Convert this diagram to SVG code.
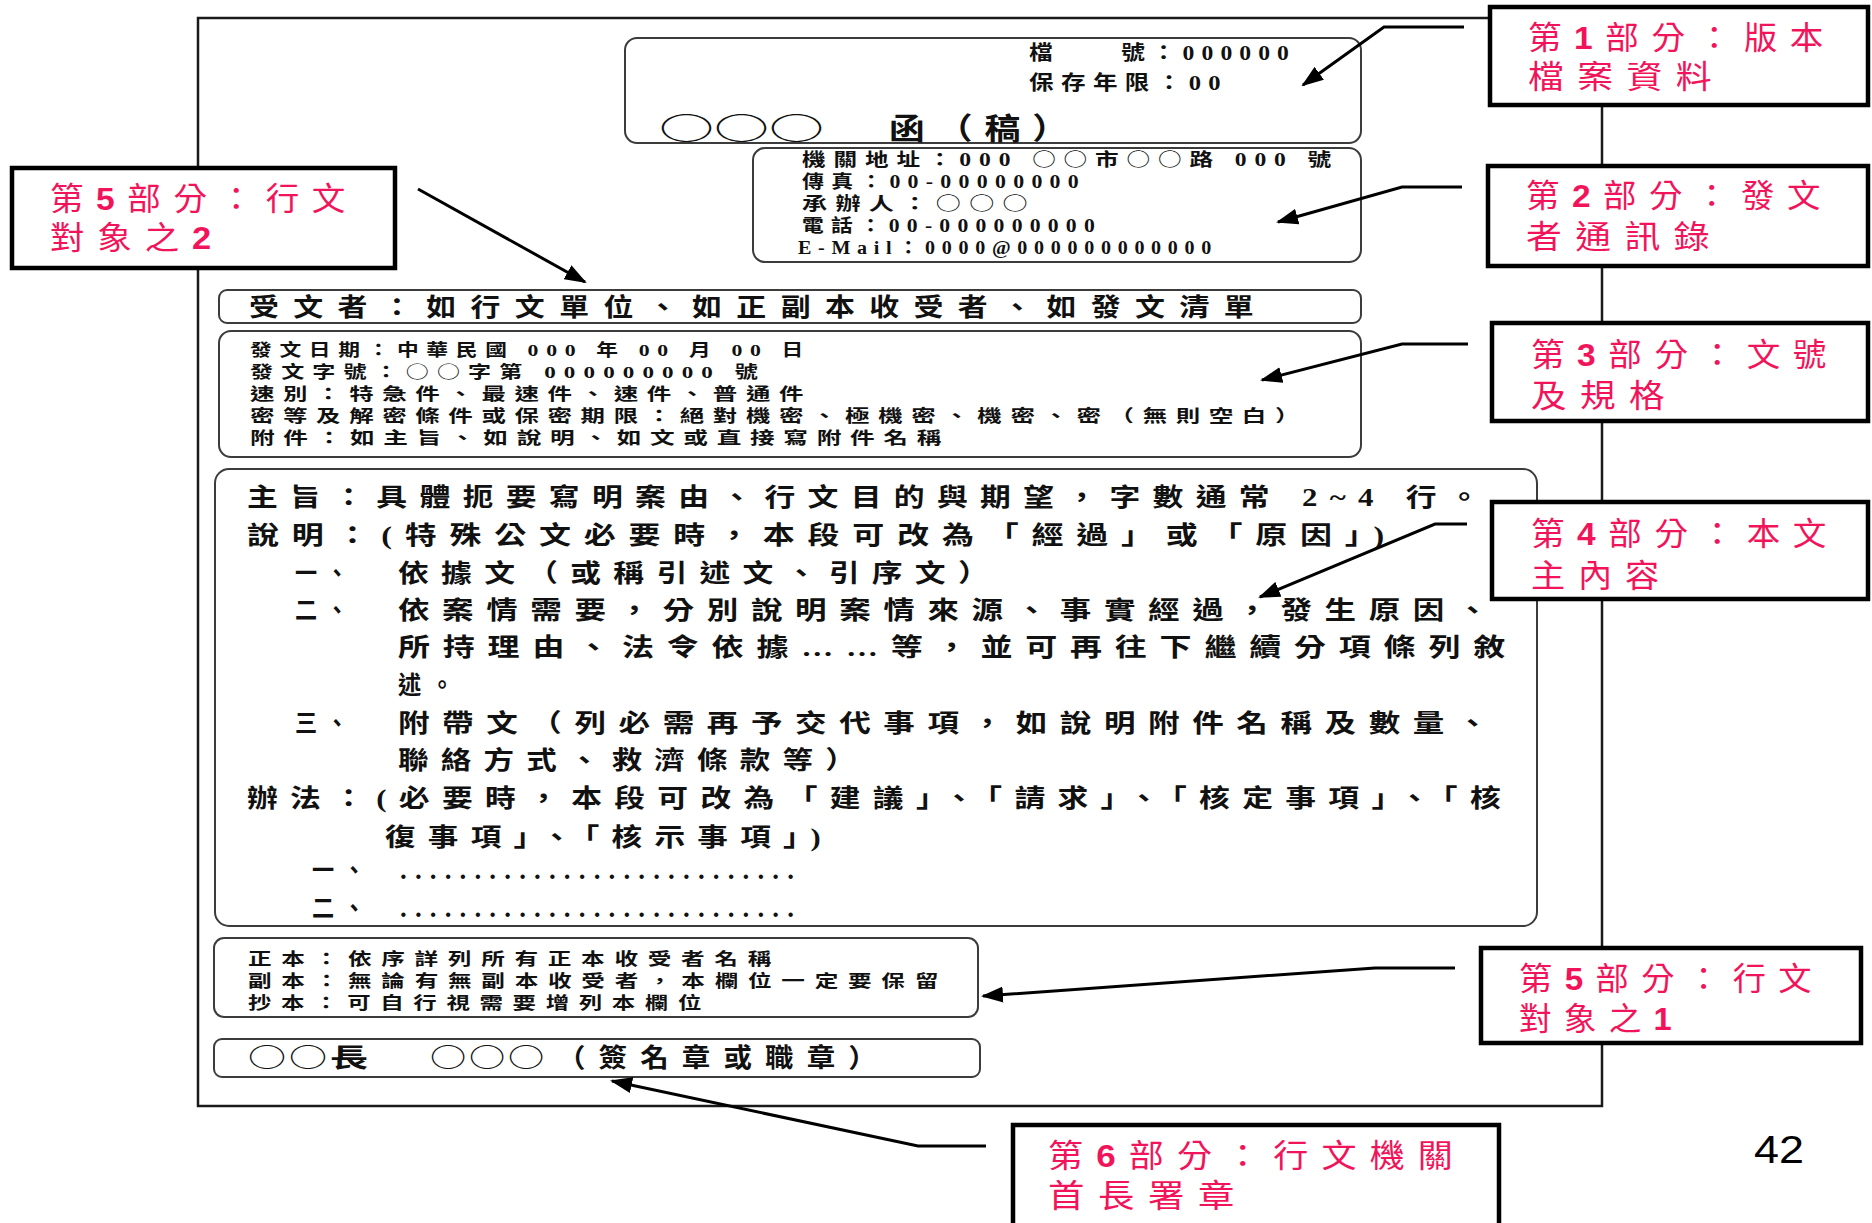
<svg xmlns="http://www.w3.org/2000/svg" width="1872" height="1223" viewBox="0 0 1872 1223">
<style>
.page{fill:none;stroke:#1a1a1a;stroke-width:2.5}
.ibox{fill:#fff;stroke:#3c3c3c;stroke-width:2}
.lbox{fill:#fff;stroke:#000;stroke-width:4.5}
.conn{fill:none;stroke:#000;stroke-width:3;marker-end:url(#ah)}
.t{font-family:"Liberation Serif","Noto Sans CJK TC",serif;font-weight:700;fill:#111}
.c{font-family:"Noto Sans CJK TC",sans-serif;font-weight:400}
.s17{font-size:17px;letter-spacing:6px}.s17w{font-size:17px;letter-spacing:7px}.s18{font-size:18px;letter-spacing:6px}.s20{font-size:20px;letter-spacing:6px}
.s25b{font-size:25px;letter-spacing:12px}.s25{font-size:25px;letter-spacing:10px}.s26{font-size:26px;letter-spacing:2px}.s26w{font-size:26px;letter-spacing:12px}.s30{font-size:30px;letter-spacing:10px}.s30c{font-size:30px}
.lt{font-family:"Liberation Sans","Noto Sans CJK TC",sans-serif;fill:#F2145A;font-size:32px;letter-spacing:12px}
.d{font-weight:700}
.pn{font-family:"Liberation Sans",sans-serif;font-size:39px;fill:#000}
</style>
<defs>
<marker id="ah" markerUnits="userSpaceOnUse" markerWidth="22" markerHeight="16" refX="20" refY="8" orient="auto" viewBox="0 0 22 16">
<path d="M0,0 L22,8 L0,16 z" fill="#000"/>
</marker>
</defs>
<rect width="1872" height="1223" fill="#fff"/>

<g id="page">
<rect class="page" x="198" y="18" width="1404" height="1088"/>
</g>

<g id="box-header">
<rect class="ibox" x="625" y="38" width="736" height="105" rx="12"/>
<text class="t s20" x="1029" y="60" textLength="267" lengthAdjust="spacingAndGlyphs">檔　　號：000000</text>
<text class="t s20" x="1029" y="90" textLength="199" lengthAdjust="spacingAndGlyphs">保存年限：00</text>
<text class="t c s30c" x="659" y="139" textLength="165" lengthAdjust="spacingAndGlyphs">○○○</text>
<text class="t s30" x="889" y="139" textLength="191" lengthAdjust="spacingAndGlyphs">函（稿）</text>
</g>

<g id="box-contact">
<rect class="ibox" x="753" y="148" width="608" height="114" rx="12"/>
<text class="t s18" x="802" y="166" textLength="537" lengthAdjust="spacingAndGlyphs">機關地址：000 <tspan class="c">○○</tspan>市<tspan class="c">○○</tspan>路 000 號</text>
<text class="t s18" x="802" y="188" textLength="284" lengthAdjust="spacingAndGlyphs">傳真：00-00000000</text>
<text class="t s18" x="802" y="210" textLength="234" lengthAdjust="spacingAndGlyphs">承辦人：<tspan class="c">○○○</tspan></text>
<text class="t s18" x="802" y="232" textLength="300" lengthAdjust="spacingAndGlyphs">電話：00-000000000</text>
<text class="t s18" x="798" y="254" textLength="420" lengthAdjust="spacingAndGlyphs">E-Mail：0000@000000000000</text>
</g>

<g id="box-recipient">
<rect class="ibox" x="219" y="290" width="1142" height="33" rx="8"/>
<text class="t s25b" x="249" y="316" textLength="1019" lengthAdjust="spacingAndGlyphs">受文者：如行文單位、如正副本收受者、如發文清單</text>
</g>

<g id="box-doc-spec">
<rect class="ibox" x="219" y="331" width="1142" height="126" rx="12"/>
<text class="t s17" x="250" y="356" textLength="561" lengthAdjust="spacingAndGlyphs">發文日期：中華民國 000 年 00 月 00 日</text>
<text class="t s17" x="250" y="378" textLength="516" lengthAdjust="spacingAndGlyphs">發文字號：<tspan class="c">○○</tspan>字第 000000000 號</text>
<text class="t s17" x="250" y="400" textLength="562" lengthAdjust="spacingAndGlyphs">速別：特急件、最速件、速件、普通件</text>
<text class="t s17" x="250" y="422" textLength="1058" lengthAdjust="spacingAndGlyphs">密等及解密條件或保密期限：絕對機密、極機密、機密、密（無則空白）</text>
<text class="t s17" x="250" y="444" textLength="700" lengthAdjust="spacingAndGlyphs">附件：如主旨、如說明、如文或直接寫附件名稱</text>
</g>

<g id="box-body">
<rect class="ibox" x="215" y="469" width="1322" height="457" rx="14"/>
<text class="t s25" x="247" y="506" textLength="1245" lengthAdjust="spacingAndGlyphs">主旨：具體扼要寫明案由、行文目的與期望，字數通常 2~4 行。</text>
<text class="t s25" x="247" y="544" textLength="1150" lengthAdjust="spacingAndGlyphs">說明：(特殊公文必要時，本段可改為「經過」或「原因」)</text>
<text class="t s25" x="295" y="582" textLength="62" lengthAdjust="spacingAndGlyphs">一、</text>
<text class="t s25" x="398" y="582" textLength="603" lengthAdjust="spacingAndGlyphs">依據文（或稱引述文、引序文）</text>
<text class="t s25" x="295" y="619" textLength="62" lengthAdjust="spacingAndGlyphs">二、</text>
<text class="t s25" x="398" y="619" textLength="1103" lengthAdjust="spacingAndGlyphs">依案情需要，分別說明案情來源、事實經過，發生原因、</text>
<text class="t s25" x="398" y="656" textLength="1120" lengthAdjust="spacingAndGlyphs">所持理由、法令依據……等，並可再往下繼續分項條列敘</text>
<text class="t s25" x="398" y="694" textLength="65" lengthAdjust="spacingAndGlyphs">述。</text>
<text class="t s25" x="295" y="732" textLength="62" lengthAdjust="spacingAndGlyphs">三、</text>
<text class="t s25" x="398" y="732" textLength="1103" lengthAdjust="spacingAndGlyphs">附帶文（列必需再予交代事項，如說明附件名稱及數量、</text>
<text class="t s25" x="398" y="769" textLength="470" lengthAdjust="spacingAndGlyphs">聯絡方式、救濟條款等）</text>
<text class="t s25" x="247" y="807" textLength="1266" lengthAdjust="spacingAndGlyphs">辦法：(必要時，本段可改為「建議」、「請求」、「核定事項」、「核</text>
<text class="t s25" x="385" y="846" textLength="448" lengthAdjust="spacingAndGlyphs">復事項」、「核示事項」)</text>
<text class="t s25" x="312" y="879" textLength="62" lengthAdjust="spacingAndGlyphs">一、</text>
<text class="t" font-size="27" x="400" y="879" textLength="394">...........................</text>
<text class="t s25" x="312" y="917" textLength="62" lengthAdjust="spacingAndGlyphs">二、</text>
<text class="t" font-size="27" x="400" y="917" textLength="394">...........................</text>
</g>

<g id="box-copies">
<rect class="ibox" x="214" y="938" width="764" height="79" rx="10"/>
<text class="t s17w" x="248" y="965" textLength="533" lengthAdjust="spacingAndGlyphs">正本：依序詳列所有正本收受者名稱</text>
<text class="t s17w" x="248" y="987" textLength="700" lengthAdjust="spacingAndGlyphs">副本：無論有無副本收受者，本欄位一定要保留</text>
<text class="t s17w" x="248" y="1009" textLength="463" lengthAdjust="spacingAndGlyphs">抄本：可自行視需要增列本欄位</text>
</g>

<g id="box-signature">
<rect class="ibox" x="214" y="1039" width="766" height="38" rx="8"/>
<text class="t s26" x="248" y="1067" textLength="123" lengthAdjust="spacingAndGlyphs"><tspan class="c">○○</tspan>長</text>
<text class="t c s26" x="430" y="1067" textLength="117" lengthAdjust="spacingAndGlyphs">○○○</text>
<text class="t s26w" x="557" y="1067" textLength="333" lengthAdjust="spacingAndGlyphs">（簽名章或職章）</text>
</g>

<g id="connectors">
<polyline class="conn" points="1464,27 1384,27 1303,85"/>
<polyline class="conn" points="1462,187 1402,187 1278,222"/>
<polyline class="conn" points="1468,344 1402,344 1262,380"/>
<polyline class="conn" points="1467,524 1435,524 1260,597"/>
<polyline class="conn" points="1455,968 1375,968 983,996"/>
<polyline class="conn" points="986,1146 918,1146 612,1081"/>
<line class="conn" x1="418" y1="189" x2="585" y2="282"/>
</g>

<g id="label-1">
<rect class="lbox" x="1490" y="7" width="378" height="98"/>
<text class="lt" x="1528" y="49" textLength="308" lengthAdjust="spacingAndGlyphs">第<tspan class="d">1</tspan>部分：版本</text>
<text class="lt" x="1528" y="88" textLength="197" lengthAdjust="spacingAndGlyphs">檔案資料</text>
</g>
<g id="label-2">
<rect class="lbox" x="1488" y="166" width="380" height="100"/>
<text class="lt" x="1526" y="207" textLength="307" lengthAdjust="spacingAndGlyphs">第<tspan class="d">2</tspan>部分：發文</text>
<text class="lt" x="1526" y="248" textLength="197" lengthAdjust="spacingAndGlyphs">者通訊錄</text>
</g>
<g id="label-3">
<rect class="lbox" x="1492" y="323" width="376" height="98"/>
<text class="lt" x="1531" y="366" textLength="308" lengthAdjust="spacingAndGlyphs">第<tspan class="d">3</tspan>部分：文號</text>
<text class="lt" x="1531" y="407" textLength="147" lengthAdjust="spacingAndGlyphs">及規格</text>
</g>
<g id="label-4">
<rect class="lbox" x="1492" y="502" width="376" height="97"/>
<text class="lt" x="1531" y="545" textLength="308" lengthAdjust="spacingAndGlyphs">第<tspan class="d">4</tspan>部分：本文</text>
<text class="lt" x="1531" y="587" textLength="141" lengthAdjust="spacingAndGlyphs">主內容</text>
</g>
<g id="label-5-1">
<rect class="lbox" x="1481" y="948" width="380" height="95"/>
<text class="lt" x="1519" y="990" textLength="305" lengthAdjust="spacingAndGlyphs">第<tspan class="d">5</tspan>部分：行文</text>
<text class="lt" x="1519" y="1030" textLength="165" lengthAdjust="spacingAndGlyphs">對象之<tspan class="d">1</tspan></text>
</g>
<g id="label-5-2">
<rect class="lbox" x="12" y="168" width="383" height="100"/>
<text class="lt" x="50" y="210" textLength="308" lengthAdjust="spacingAndGlyphs">第<tspan class="d">5</tspan>部分：行文</text>
<text class="lt" x="50" y="249" textLength="174" lengthAdjust="spacingAndGlyphs">對象之<tspan class="d">2</tspan></text>
</g>
<g id="label-6">
<rect class="lbox" x="1013" y="1125" width="486" height="110"/>
<text class="lt" x="1048" y="1167" textLength="418" lengthAdjust="spacingAndGlyphs">第<tspan class="d">6</tspan>部分：行文機關</text>
<text class="lt" x="1048" y="1207" textLength="200" lengthAdjust="spacingAndGlyphs">首長署章</text>
</g>

<g id="page-number">
<text class="pn" x="1754" y="1163" textLength="50" lengthAdjust="spacingAndGlyphs">42</text>
</g>
</svg>
